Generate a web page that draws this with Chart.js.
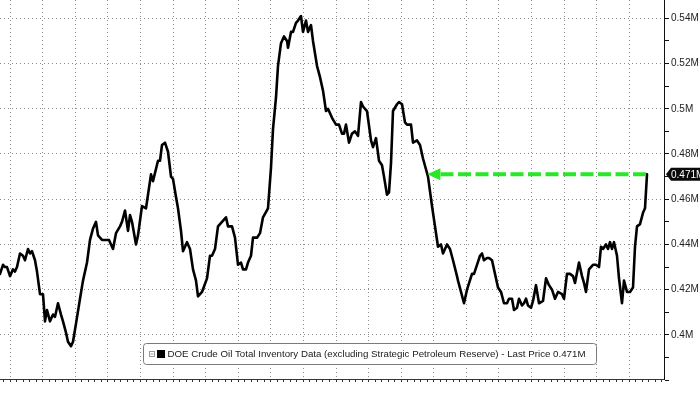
<!DOCTYPE html>
<html>
<head>
<meta charset="utf-8">
<script src="https://cdn.jsdelivr.net/npm/chart.js@4.4.1/dist/chart.umd.min.js"></script>
<style>
html,body{margin:0;padding:0;background:#fff;overflow:hidden;}
#wrap{width:700px;height:394px;position:relative;}
canvas{display:block;}
</style>
</head>
<body>
<div id="wrap"><canvas id="c" width="700" height="394"></canvas></div>
<script>
// ---- data (day offsets from start of window, inventory in millions of "M" units) ----
const dayOffsets = [
0,6,10,14,20,26,30,34,40,46,
50,56,60,64,70,74,80,86,90,94,
100,106,110,116,122,126,132,136,142,146,
152,160,166,174,180,186,192,196,204,210,
218,226,232,240,244,250,256,260,264,272,
276,284,292,302,306,316,320,324,330,336,
342,346,352,356,362,366,374,380,386,392,
396,404,414,420,424,430,436,444,452,456,
464,470,476,482,486,492,496,502,506,514,
520,526,536,542,546,552,556,562,568,574,
576,582,586,592,596,602,606,612,616,622,
626,634,640,646,652,656,664,672,678,684,
688,692,698,704,710,716,722,726,734,742,
746,752,758,764,768,774,778,782,786,794,
798,804,810,814,822,826,834,840,846,856,
864,870,876,882,886,894,900,906,914,916,
922,928,934,944,948,954,960,964,968,974,
978,984,990,996,1002,1008,1014,1018,1024,1028,
1034,1038,1044,1048,1052,1056,1062,1066,1072,1078,
1086,1092,1098,1104,1110,1116,1124,1128,1134,1140,
1146,1150,1158,1164,1168,1172,1178,1186,1192,1198,
1202,1206,1212,1216,1220,1224,1228,1234,1238,1244,
1248,1254,1260,1266,1270,1274,1280,1286,1290,1294
];
const inventory = [
0.427,0.431,0.430,0.430,0.426,0.429,0.428,0.430,0.436,0.435,
0.433,0.438,0.436,0.437,0.433,0.428,0.418,0.418,0.406,0.411,
0.406,0.409,0.408,0.414,0.409,0.406,0.401,0.397,0.395,0.397,
0.405,0.416,0.424,0.432,0.442,0.447,0.450,0.444,0.442,0.442,
0.442,0.438,0.445,0.448,0.450,0.455,0.446,0.453,0.450,0.440,
0.444,0.457,0.456,0.471,0.468,0.477,0.477,0.484,0.485,0.481,
0.470,0.469,0.461,0.456,0.446,0.437,0.441,0.438,0.429,0.424,
0.417,0.419,0.425,0.435,0.435,0.438,0.448,0.450,0.452,0.448,
0.448,0.443,0.431,0.432,0.429,0.429,0.432,0.435,0.443,0.443,
0.445,0.452,0.456,0.474,0.491,0.505,0.519,0.529,0.532,0.530,
0.527,0.534,0.534,0.538,0.539,0.541,0.534,0.539,0.534,0.537,
0.530,0.519,0.514,0.508,0.499,0.500,0.496,0.493,0.493,0.489,
0.489,0.493,0.485,0.489,0.490,0.488,0.503,0.501,0.499,0.486,
0.483,0.487,0.477,0.475,0.470,0.462,0.463,0.476,0.499,0.502,
0.503,0.502,0.494,0.493,0.493,0.485,0.486,0.484,0.478,0.470,
0.457,0.448,0.439,0.440,0.436,0.440,0.438,0.433,0.426,0.424,
0.419,0.414,0.420,0.427,0.427,0.431,0.435,0.436,0.433,0.434,
0.434,0.433,0.427,0.421,0.419,0.414,0.414,0.416,0.416,0.411,
0.412,0.416,0.413,0.414,0.416,0.413,0.412,0.415,0.422,0.414,
0.415,0.425,0.422,0.420,0.416,0.419,0.418,0.416,0.427,0.427,
0.426,0.423,0.432,0.426,0.423,0.419,0.429,0.431,0.431,0.430,
0.439,0.438,0.440,0.438,0.441,0.438,0.441,0.435,0.425,0.414,
0.424,0.419,0.419,0.421,0.439,0.448,0.449,0.454,0.456,0.471
];
const yMajorTicks = [0.40, 0.42, 0.44, 0.46, 0.48, 0.50, 0.52, 0.54];
const yMinorTicks = [0.38, 0.39, 0.41, 0.43, 0.45, 0.47, 0.49, 0.51, 0.53, 0.55];
const yTickLabels = ['0.4M','0.42M','0.44M','0.46M','0.48M','0.5M','0.52M','0.54M'];
const legendLabel = 'DOE Crude Oil Total Inventory Data (excluding Strategic Petroleum Reserve) - Last Price 0.471M';
const lastPriceLabel = '0.471M';

// ---- axis extents / grid ----
const X_MIN = 0, X_MAX = 1328;
const Y_MIN = 0.3805, Y_MAX = 0.5481;
const X_GRID_START = 20, X_GRID_STEP = 65.2, X_MINOR_PER_MAJOR = 5;

const FONT = "'Liberation Sans', Arial, sans-serif";
const GRID_COLOR = '#8c8c8c';

const overlayPlugin = {
  id: 'overlay',
  afterDraw(chart) {
    const ctx = chart.ctx;
    const xs = chart.scales.x, ys = chart.scales.y;
    const n = inventory.length;
    const last = inventory[n - 1];
    const yLast = ys.getPixelForValue(last);
    const xLast = xs.getPixelForValue(dayOffsets[n - 1]);

    // find where the series was last at this level (before the recent rise)
    let i = n - 2;
    while (i >= 0 && inventory[i] < last) i--;
    let xTip = xs.getPixelForValue(dayOffsets[0]);
    if (i >= 0) {
      const a = inventory[i], b = inventory[i + 1];
      const t = (a - last) / (a - b);
      xTip = xs.getPixelForValue(dayOffsets[i] + t * (dayOffsets[i + 1] - dayOffsets[i]));
    }

    // green dashed arrow
    const green = '#26e826';
    ctx.save();
    ctx.strokeStyle = green;
    ctx.lineWidth = 4;
    ctx.setLineDash([13, 4.5]);
    ctx.beginPath();
    ctx.moveTo(xLast - 1, yLast);
    ctx.lineTo(xTip + 11, yLast);
    ctx.stroke();
    ctx.setLineDash([]);
    ctx.fillStyle = green;
    ctx.beginPath();
    ctx.moveTo(xTip, yLast);
    ctx.lineTo(xTip + 13, yLast - 6);
    ctx.lineTo(xTip + 13, yLast + 6);
    ctx.closePath();
    ctx.fill();
    ctx.restore();

    // last price tag on right axis
    const ax = chart.chartArea.right;
    ctx.save();
    ctx.fillStyle = '#0a0a0a';
    ctx.beginPath();
    ctx.moveTo(ax + 2, yLast);
    ctx.lineTo(ax + 7, yLast - 6.5);
    ctx.lineTo(702, yLast - 6.5);
    ctx.lineTo(702, yLast + 6.5);
    ctx.lineTo(ax + 7, yLast + 6.5);
    ctx.closePath();
    ctx.fill();
    ctx.fillStyle = '#ffffff';
    ctx.font = '10px ' + FONT;
    ctx.textBaseline = 'middle';
    ctx.textAlign = 'left';
    ctx.fillText(lastPriceLabel, ax + 7, yLast + 0.5);
    ctx.restore();

    // legend box
    ctx.save();
    const bx = 143.5, by = 343.5, bw = 453, bh = 21, r = 3;
    ctx.beginPath();
    ctx.moveTo(bx + r, by);
    ctx.lineTo(bx + bw - r, by);
    ctx.arcTo(bx + bw, by, bx + bw, by + r, r);
    ctx.lineTo(bx + bw, by + bh - r);
    ctx.arcTo(bx + bw, by + bh, bx + bw - r, by + bh, r);
    ctx.lineTo(bx + r, by + bh);
    ctx.arcTo(bx, by + bh, bx, by + bh - r, r);
    ctx.lineTo(bx, by + r);
    ctx.arcTo(bx, by, bx + r, by, r);
    ctx.closePath();
    ctx.fillStyle = '#ffffff';
    ctx.fill();
    ctx.strokeStyle = '#7a7a7a';
    ctx.lineWidth = 1;
    ctx.stroke();
    // collapse icon
    ctx.strokeStyle = '#9a9a9a';
    ctx.strokeRect(149.5, 351.5, 5, 5);
    ctx.beginPath();
    ctx.moveTo(150.5, 354); ctx.lineTo(153.5, 354);
    ctx.stroke();
    // series swatch
    ctx.fillStyle = '#000000';
    ctx.fillRect(157, 350, 8, 8);
    // text
    ctx.fillStyle = '#1a1a1a';
    ctx.font = '9.5px ' + FONT;
    ctx.textBaseline = 'middle';
    ctx.textAlign = 'left';
    const targetW = 418;
    const w = ctx.measureText(legendLabel).width;
    ctx.save();
    ctx.translate(167.5, 354.5);
    ctx.scale(targetW / w, 1);
    ctx.fillText(legendLabel, 0, 0);
    ctx.restore();
    ctx.restore();
  }
};

new Chart(document.getElementById('c'), {
  type: 'line',
  data: {
    datasets: [{
      label: legendLabel,
      data: dayOffsets.map((d, i) => ({ x: d, y: inventory[i] })),
      borderColor: '#000000',
      borderWidth: 2.6,
      pointRadius: 0,
      tension: 0,
      fill: false,
      borderJoinStyle: 'round',
      borderCapStyle: 'round'
    }]
  },
  options: {
    responsive: false,
    animation: false,
    devicePixelRatio: 1,
    layout: { padding: 0 },
    plugins: { legend: { display: false }, tooltip: { enabled: false } },
    scales: {
      x: {
        type: 'linear',
        position: 'bottom',
        min: X_MIN,
        max: X_MAX,
        afterBuildTicks(scale) {
          const ticks = [];
          const minorStep = X_GRID_STEP / X_MINOR_PER_MAJOR;
          let start = X_GRID_START;
          while (start - minorStep >= X_MIN) start -= minorStep;
          let k = Math.round((X_GRID_START - start) / minorStep);
          for (let v = start, j = 0; v <= X_MAX; v += minorStep, j++) {
            const isMajor = ((j - k) % X_MINOR_PER_MAJOR === 0) && v < X_MAX - 10;
            ticks.push({ value: v, isMajor });
          }
          scale.ticks = ticks;
        },
        afterFit(scale) {
          scale.height = 15;
          scale.paddingLeft = 0; scale.paddingRight = 0;
        },
        ticks: { display: false, autoSkip: false },
        grid: {
          color: (c) => (c.tick && c.tick.isMajor) ? GRID_COLOR : 'rgba(0,0,0,0)',
          lineWidth: 1,
          drawTicks: true,
          tickLength: 3,
          tickColor: '#333333',
          tickWidth: 1
        },
        border: { display: true, color: '#333333', width: 1, dash: [1, 3] }
      },
      y: {
        type: 'linear',
        position: 'right',
        min: Y_MIN,
        max: Y_MAX,
        afterBuildTicks(scale) {
          const all = yMajorTicks.map(v => ({ value: v, isMajor: true }))
            .concat(yMinorTicks.map(v => ({ value: v, isMajor: false })));
          all.sort((a, b) => a.value - b.value);
          scale.ticks = all;
        },
        afterFit(scale) {
          scale.width = 36;
          scale.paddingTop = 0; scale.paddingBottom = 0;
        },
        ticks: {
          autoSkip: false,
          padding: 2,
          color: '#222222',
          font: { family: FONT, size: 10 },
          callback: function (value, index, ticks) {
            const t = ticks[index];
            if (!t.isMajor) return '';
            const j = yMajorTicks.findIndex(v => Math.abs(v - value) < 1e-6);
            return j >= 0 ? yTickLabels[j] : '';
          }
        },
        grid: {
          color: (c) => (c.tick && c.tick.isMajor) ? GRID_COLOR : 'rgba(0,0,0,0)',
          lineWidth: 1,
          drawTicks: true,
          tickLength: 5,
          tickColor: '#111111',
          tickWidth: 1
        },
        border: { display: true, color: '#111111', width: 1, dash: [1, 3] }
      }
    }
  },
  plugins: [overlayPlugin]
});
</script>
</body>
</html>
